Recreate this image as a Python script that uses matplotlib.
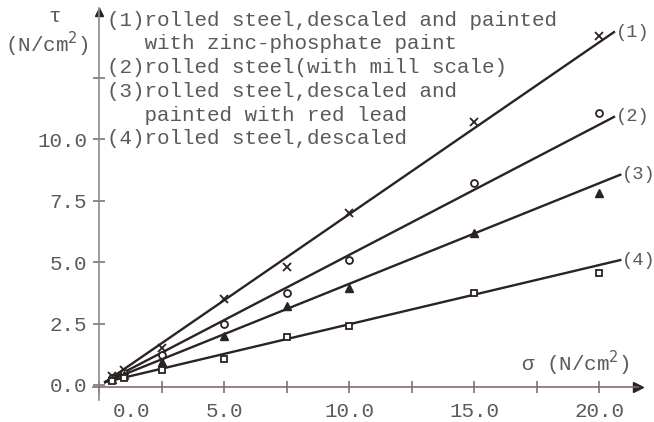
import matplotlib.pyplot as plt
from matplotlib.transforms import ScaledTranslation

# measured points: normal stress sigma vs shear stress tau (N/cm^2)
sigma = [0.5, 1.0, 2.5, 5.0, 7.5, 10.0, 15.0, 20.0]
tau1 = [0.35, 0.6, 1.5, 3.5, 4.8, 7.0, 10.7, 14.2]
tau2 = [0.3, 0.5, 1.2, 2.5, 3.75, 5.1, 8.2, 11.05]
tau3 = [0.25, 0.4, 0.95, 2.0, 3.2, 3.95, 6.2, 7.8]
tau4 = [0.15, 0.3, 0.6, 1.05, 1.95, 2.4, 3.75, 4.55]

# fitted straight lines (start point shared, end points per surface)
fit_x0, fit_y0 = 0.25, 0.12
fit_x1 = [20.6, 20.6, 20.85, 20.85]
fit_y1 = [14.35, 10.9, 8.55, 5.08]

names = ['(1)', '(2)', '(3)', '(4)']
legend_lines = ['(1)rolled steel,descaled and painted',
                '   with zinc-phosphate paint',
                '(2)rolled steel(with mill scale)',
                '(3)rolled steel,descaled and',
                '   painted with red lead',
                '(4)rolled steel,descaled']

W, H = 654, 422
mono = 'Liberation Mono'
txt = '#5a5a5a'
ink = '#2b2222'

fig = plt.figure(figsize=(W / 100, H / 100), dpi=100)
ax = fig.add_axes([93 / W, 22 / H, 545 / W, 392 / H])
ax.set_xlim(-0.24, 21.56)
ax.set_ylim(-0.61, 15.33)

for s in ['top', 'right']:
    ax.spines[s].set_visible(False)
ax.spines['left'].set_position(('data', 0))
ax.spines['bottom'].set_position(('data', -0.1))
ax.spines['left'].set_color('#8a8a8a')
ax.spines['bottom'].set_color('#8a6a6a')
ax.spines['left'].set_linewidth(1.2)
ax.spines['bottom'].set_linewidth(1.2)

# axis arrows
ax.plot(1, -0.1, '>', color=ink, ms=7, transform=ax.get_yaxis_transform(), clip_on=False)
ax.plot(0, 0.99, '^', color=ink, ms=6, transform=ax.get_xaxis_transform(), clip_on=False)

ax.set_xticks([0, 5, 10, 15, 20])
ax.set_xticklabels(['0.0', '5.0', '10.0', '15.0', '20.0'])
ax.set_xticks([2.5, 7.5, 12.5, 17.5], minor=True)
ax.set_yticks([0, 2.5, 5, 7.5, 10])
ax.set_yticklabels(['0.0', '2.5', '5.0', '7.5', '10.0'])
ax.set_yticks([12.5], minor=True)
ax.tick_params(which='both', direction='inout', length=9, width=1.1,
               colors='#6a6a6a', labelsize=15, labelcolor=txt)
ax.tick_params(axis='x', which='both', pad=6)
ax.tick_params(axis='y', which='both', pad=4)
for lab in ax.get_xticklabels() + ax.get_yticklabels():
    lab.set_family(mono)
# the 0.0 label sits a bit right of the origin
ax.get_xticklabels()[0].set_transform(
    ax.get_xticklabels()[0].get_transform() + ScaledTranslation(0.33, 0, fig.dpi_scale_trans))

series = [tau1, tau2, tau3, tau4]
markers = [dict(marker='x', ms=6, mew=1.3, mfc='none'),
           dict(marker='o', ms=5, mew=1.3, mfc='white'),
           dict(marker='^', ms=6, mew=1.0, mfc=ink),
           dict(marker='s', ms=5, mew=1.3, mfc='white')]
for i in range(4):
    ax.plot([fit_x0, fit_x1[i]], [fit_y0, fit_y1[i]], color=ink, lw=1.7)
    ax.plot(sigma, series[i], ls='none', color=ink, **markers[i])
    ax.annotate(names[i], (fit_x1[i], fit_y1[i]), xytext=(1, 0),
                textcoords='offset points', ha='left', va='center',
                fontsize=13.5, family=mono, color=txt, annotation_clip=False)

for j, line in enumerate(legend_lines):
    fig.text(107 / W, 1 - (20 + 23.8 * j) / H, line, ha='left', va='center',
             fontsize=15, family=mono, color=txt)

fig.text(55 / W, 1 - 16 / H, '\u03c4', ha='center', va='center', fontsize=15,
         family=mono, color=txt)
fig.text(47 / W, 1 - 44 / H, '(N/cm$^2$)', ha='center', va='center', fontsize=15,
         family=mono, color=txt)
fig.text(630 / W, 1 - 363 / H, '\u03c3 (N/cm$^2$)', ha='right', va='center',
         fontsize=15, family=mono, color=txt)

fig.savefig('out.png', dpi=100, facecolor='white')
